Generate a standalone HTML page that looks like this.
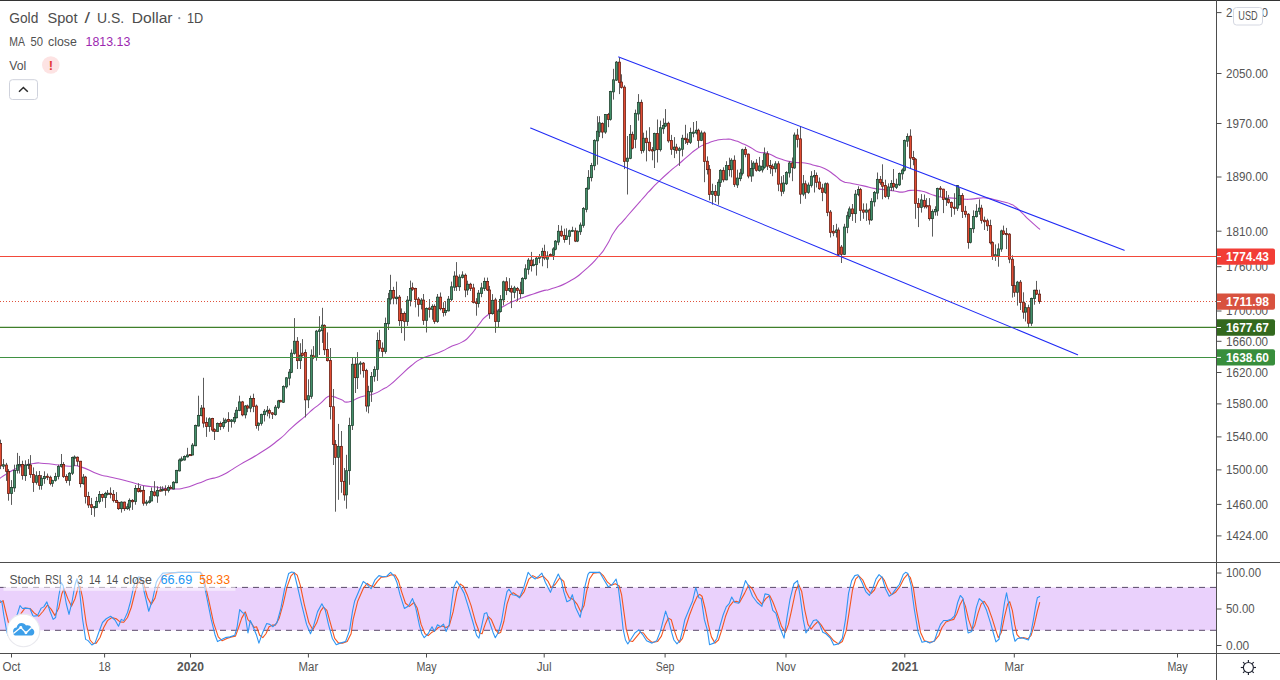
<!DOCTYPE html><html><head><meta charset="utf-8"><title>Gold Spot / U.S. Dollar</title>
<style>html,body{margin:0;padding:0;background:#fff;}body{width:1280px;height:680px;overflow:hidden;font-family:"Liberation Sans",sans-serif;}svg{display:block;}text{font-family:"Liberation Sans",sans-serif;}</style></head><body>
<svg width="1280" height="680" viewBox="0 0 1280 680">
<rect x="0" y="0" width="1280" height="680" fill="#ffffff"/>
<g id="rsi">
<rect x="0" y="587.4" width="1216.5" height="42.9" fill="#ead1fc"/>
<line x1="0" y1="587.4" x2="1216.5" y2="587.4" stroke="#5a4a6a" stroke-width="1" stroke-dasharray="6 5"/>
<line x1="0" y1="630.3" x2="1216.5" y2="630.3" stroke="#5a4a6a" stroke-width="1" stroke-dasharray="6 5"/>
<polyline points="0,602.5 3.12,600.62 5.62,611.25 8.75,623.75 11.25,631.25 15,627.5 18.75,618.75 21.25,613.12 25,608.12 30,608.5 34.38,613.12 38.75,616.25 43.12,611.25 47.5,605 51.25,609.38 55,615.62 58.75,608.12 61.88,593.75 64,588.75 68.12,599.38 71.5,606.25 75,598.75 78.12,587.5 80,586.25 82.5,597.5 86.25,623.75 90,640 93.12,643.5 96.25,643.12 100,637.5 103.75,627.5 107.5,620.62 111.88,617.5 116.25,618.75 120,621.88 123.75,622.25 127.5,617.5 131.25,607.5 135,592.5 137.5,583.75 141.25,580 143.75,583.75 147.5,597.5 151.25,604.38 155,598.12 158.12,586.25 162.81,575.94 170.62,573.12 178.44,572.34 200.31,572.34 201.88,573.59 205,583.75 208.91,600.94 213.59,622.81 218.28,636.88 222.19,640.78 226.88,638.44 231.56,636.88 235.47,636.09 238.59,627.5 241.72,618.12 245.31,611.88 247.97,619.69 251.09,622.81 254.22,627.5 256.56,626.72 259.69,635.31 262.81,637.66 265.94,633.75 269.06,626.72 272.19,625.16 275.31,625.16 279.22,618.12 283.12,604.06 287.03,586.88 290.94,575.94 294.06,572.81 297.19,575.16 300.31,585.31 304.22,604.06 308.91,622.81 312.81,629.84 316.72,622.81 320.62,611.09 323.44,607.19 326.88,610.31 330.78,624.38 334.69,638.44 338.59,643.12 342.5,643.12 347.19,641.56 351.09,633.75 353.12,619.69 357.81,600.94 363.28,588.44 367.19,583.44 370.31,585.62 373.44,586.88 377.34,581.41 381.25,577.19 386.72,576.72 391.41,574.69 395.31,575.16 398.44,580.62 401.56,591.56 405.47,603.28 409.38,606.41 414.06,602.5 417.19,607.97 421.09,624.38 425,633.75 428.12,635.62 432.03,632.19 435.16,630.62 438.28,627.5 442.19,625.94 446.09,627.5 449.22,625.94 453.12,611.88 457.03,591.56 460.16,584.06 463.28,586.09 467.19,594.69 471.09,605.62 475.78,622.81 479.69,632.97 482.03,633.75 485.16,624.38 488.28,616.56 491.41,619.69 495.31,629.06 498.44,633.44 500.78,632.19 503.91,621.25 507.03,604.06 510.16,594.69 513.28,592.81 517.19,595.47 520.31,597.03 524.22,591.56 528.91,579.06 532.81,575.62 537.5,578.28 542.97,575.94 548.12,581.41 551.25,587.66 555.16,584.53 559.84,577.81 563.75,581.41 566.09,591.56 569.22,597.81 573.12,599.38 577.03,604.06 580.94,611.88 584.06,605.62 586.41,592.34 589.53,579.06 593.44,573.12 599.69,572.34 603.59,575.94 607.5,582.19 611.41,585.31 615.31,583.75 619.22,586.09 621.56,594.69 623.91,611.88 626.25,629.06 629.38,640.78 632.5,641.56 636.41,636.88 640.31,632.19 643.44,632.97 647.34,638.44 652.03,642.34 657.5,641.56 661.41,636.09 665.31,624.38 668.44,618.12 671.25,619.69 673.91,629.06 677.03,638.44 679.38,642.34 682.5,638.44 685.62,627.5 689.53,615 693.44,604.84 697.34,596.25 699.69,594.38 702.03,596.25 705.16,608.75 708.28,624.38 711.41,636.88 715,643.12 718.44,640 721.56,630.62 725.47,616.56 729.38,606.41 733.28,601.72 736.41,601.25 739.53,602.5 744.69,593.12 748.59,585 752.5,589.22 757.19,598.59 761.88,604.06 765.78,598.59 769.69,595.47 772.81,601.72 776.72,611.88 781.41,625.94 785.31,632.5 788.44,624.38 791.56,610.31 795.47,591.56 798.59,584.53 801.72,591.56 804.84,610.31 807.97,624.38 811.09,629.06 814.22,625.16 818.12,621.25 821.25,625.16 825.16,631.41 829.84,636.09 833.75,640.78 838.44,643.91 842.34,641.56 846.25,630.62 849.38,610.31 852.5,590 855.62,579.06 858.75,575.94 862.66,579.84 866.56,588.44 870.94,593.59 874.38,590 878.28,581.41 881.88,576.72 884.53,580.62 887.66,588.44 891.56,594.69 895.47,592.34 900.16,586.09 904.06,578.28 907.5,574.38 910.31,577.5 913.44,588.44 916.56,610.31 920.47,632.19 924.38,640.78 929.06,642.34 933.75,641.56 938.91,635.31 942.03,627.5 945.94,622.03 949.84,620.47 953.75,619.38 956.88,613.44 960,604.84 962.81,599.38 965.47,606.41 968.59,619.69 972.19,629.84 974.84,625.16 977.97,613.44 981.09,604.06 984.22,601.25 988.12,607.19 992.03,618.12 995.94,630.62 998.28,637.66 1001.41,632.19 1004.53,616.56 1007.66,604.06 1009.69,601.72 1012.34,610.31 1014.69,624.38 1017.03,634.53 1020.16,638.12 1024.06,637.66 1027.97,638.75 1031.09,635.31 1034.22,625.16 1037.34,611.09 1039.69,602.5" fill="none" stroke="#f4551f" stroke-width="1.1" stroke-linejoin="round" stroke-linecap="round" />
<polyline points="0,600.62 1.88,601.88 3.75,615 6.25,628.75 7.75,635 10.62,632.5 13.75,623.75 17.5,613.75 20,605.62 22.5,608.5 25,608.12 30,608.75 33.12,616.25 37.5,615.62 41.25,608.12 43.75,606.88 46.88,601.88 50,611.25 53.12,619.38 55.62,617.5 58.75,596.25 61.25,582.5 63.12,585.62 66.25,603.75 69,614.38 71.88,602.5 75,585 76.88,578.75 79.38,588.75 82.5,618.75 85.62,639.38 88.12,640.62 91.88,645 95,643.12 98.75,632.5 102.5,622.5 106.25,618.75 110.62,616.25 115,620 118.5,626.25 121.25,619.38 123.75,620.62 127.5,612.5 130.62,601.25 133.75,586.25 135.62,580 138.75,576.88 141.25,577.5 143.75,590 148.75,611.25 152.5,600 156.25,582.5 158.12,578.75 162.81,573.12 170.62,572.81 178.44,572.34 186.25,572.34 200.31,572.34 202.66,577.5 206.56,596.25 211.25,619.69 215.16,635.31 217.5,641.56 220.62,640 225.31,637.66 230,636.88 234.69,635.31 237.03,627.5 239.69,609.53 242.5,612.66 244.84,613.44 247.97,632.97 250.31,620.47 253.44,627.5 256.56,635.31 258.91,643.12 262.81,632.19 266.72,623.59 269.84,624.38 272.97,626.72 276.88,622.81 280.78,608.75 284.69,588.44 288.59,573.59 291.72,572.03 294.06,572.5 297.19,585.31 301.88,605.62 306.56,624.38 310.47,633.75 313.59,625.94 317.5,611.88 321.88,603.75 325.31,610.31 328.44,624.38 332.34,638.44 336.25,644.69 340.16,643.12 345.62,641.56 349.53,630.62 352.66,610.31 354.69,600.94 359.38,590 363.28,581.41 367.19,584.53 371.09,588.75 375,579.84 378.91,575.62 382.81,576.72 386.72,576.25 390.62,572.34 394.53,576.72 396.88,582.19 400,594.69 404.38,608.44 408.59,605.94 412.5,598.59 415.62,607.19 419.53,625.94 421.88,633.75 424.22,637.66 428.12,633.75 432.03,626.72 434.38,631.41 437.5,624.84 440.62,626.72 443.44,624.06 446.09,631.41 449.22,624.38 451.56,604.06 453.91,586.88 456.72,581.09 460.16,586.09 464.06,593.12 467.97,605.62 472.66,621.25 476.56,635.31 478.91,638.12 482.03,624.38 484.38,613.44 486.72,612.66 489.84,622.81 492.97,632.19 495.31,637.66 498.44,632.19 501.56,621.25 504.69,602.5 507.03,591.56 509.06,589.22 512.5,594.69 516.41,595.47 519.53,597.81 523.44,588.44 528.12,572.34 531.25,576.25 535.16,579.06 539.06,575.94 541.88,573.12 545.31,582.19 550.47,592.34 554.38,582.19 558.28,574.06 561.41,580.62 563.75,591.56 566.88,601.72 570,600.16 572.34,594.69 575.47,607.19 580.16,617.34 582.5,605.62 584.84,586.88 587.97,574.38 589.53,572.34 599.69,572.34 603.59,579.06 608.28,586.88 612.19,584.53 616.09,579.06 618.44,588.44 620.78,607.19 623.12,629.06 625.47,640 627.81,643.91 630.94,639.22 634.84,632.97 638.75,629.84 642.66,634.53 646.56,640.78 652.03,643.12 656.72,640.78 660.62,630.62 663.75,618.12 665.62,611.09 668.44,619.69 671.56,632.19 673.91,640 677.03,643.91 680.16,640 682.5,630.62 684.84,619.69 688.75,610.31 692.66,600.94 695.78,587.66 698.91,597.81 701.25,598.59 704.38,619.69 707.5,630.62 709.53,644.69 713.75,643.12 716.88,638.44 720,625.94 723.12,615 726.25,606.88 729.38,603.28 731.72,597.03 734.84,602.5 738.75,603.28 743.12,588.44 745.47,580.62 748.59,586.09 752.5,596.25 757.19,602.5 761.88,606.41 765,593.91 768.91,594.69 772.81,610.31 775.94,613.44 779.84,627.5 784.06,638.12 786.88,618.12 790,599.38 793.91,583.75 797.5,580.62 800.16,596.25 803.28,619.69 805.94,632.97 809.53,627.5 813.44,620.47 816.56,619.69 819.69,624.38 822.81,632.19 825.94,633.75 830.62,638.44 833.75,645 838.44,643.91 842.34,638.44 845.47,619.69 848.59,593.12 851.72,580.62 854.84,575.62 857.97,574.69 861.88,582.19 865.78,591.56 869.38,595.47 872.81,588.44 875.94,579.06 879.06,574.69 882.19,577.5 885.31,588.44 889.22,596.25 892.34,593.91 896.25,588.44 899.38,584.53 903.28,574.38 905.62,572.34 907.97,573.59 911.09,585.31 914.22,608.75 918.12,632.19 922.03,642.34 925.94,641.25 929.84,643.12 934.53,640.78 937.34,632.19 940.47,624.38 943.59,620.47 947.5,620.47 951.41,618.91 954.53,615.78 957.66,602.5 960.31,595.47 963.12,598.59 965.47,616.56 968.12,632.97 971.72,631.41 974.06,619.69 976.41,607.19 979.22,598.59 982.66,601.72 986.56,610.31 990.47,622.81 993.59,633.75 995.94,641.88 999.06,639.22 1001.41,624.38 1004.53,602.5 1006.56,592.81 1008.44,602.5 1010.78,618.12 1013.12,633.75 1015,641.25 1017.81,638.44 1021.72,637.66 1024.84,638.75 1028.44,640 1031.09,632.19 1033.44,619.69 1035.78,605.62 1037.34,597.81 1039.69,596.56" fill="none" stroke="#2f96f3" stroke-width="1.1" stroke-linejoin="round" stroke-linecap="round" />
</g>
<g id="levels">
<line x1="0" y1="301.5" x2="1216.5" y2="301.5" stroke="#e0523c" stroke-width="1.2" stroke-dasharray="1 2"/>
</g>
<path d="M0 478.2C2.47 476.63 0.73 477.23 7.4 473.5C14.07 469.77 11.2 470.33 20 467C28.8 463.67 25.77 464.67 33.8 463.5C41.83 462.33 35.77 463 44.1 463.5C52.43 464 50.47 464.1 58.8 465C67.13 465.9 62.03 465.67 69.1 466.2C76.17 466.73 70.37 463.97 80 466.6C89.63 469.23 89.03 470.87 98 474.1C106.97 477.33 99.53 474.57 106.9 476.3C114.27 478.03 110.8 477 120.1 479.3C129.4 481.6 126.47 481 134.8 483.2C143.13 485.4 138.03 484.63 145.1 485.9C152.17 487.17 150.93 486.37 156 487C161.07 487.63 154.77 487.13 160.3 487.8C165.83 488.47 164.37 489 172.6 489C180.83 489 176.73 489.6 185 487.8C193.27 486 189.17 486.5 197.4 483.6C205.63 480.7 202.87 481.3 209.7 479.1C216.53 476.9 211.73 479.4 217.9 477C224.07 474.6 220.83 476.03 228.2 471.9C235.57 467.77 229.4 470.9 240 464.6C250.6 458.3 247.2 461.2 260 453C272.8 444.8 267.8 448.47 278.4 440C289 431.53 282.9 435.5 291.8 427.6C300.7 419.7 298.37 422.17 305.1 416.3C311.83 410.43 307 414.23 312 410C317 405.77 314.7 408.07 320.1 403.6C325.5 399.13 323.9 398.93 328.2 396.6C332.5 394.27 328.7 395.63 333 396.6C337.3 397.57 335.97 397.7 341.1 399.5C346.23 401.3 341.93 402.8 348.4 402C354.87 401.2 352.13 399.8 360.5 397.1C368.87 394.4 365.93 396.6 373.5 393.9C381.07 391.2 377.6 392.1 383.2 389C388.8 385.9 384.5 389.17 390.3 384.6C396.1 380.03 393.73 381.5 400.6 375.3C407.47 369.1 404.03 371.5 410.9 366C417.77 360.5 414.33 362.43 421.2 358.8C428.07 355.17 424.63 357.63 431.5 355.1C438.37 352.57 434.93 354.2 441.8 351.2C448.67 348.2 445.23 349.2 452.1 346.1C458.97 343 456.37 345.5 462.4 341.9C468.43 338.3 464.83 340.93 470.2 335.3C475.57 329.67 473 331.53 478.5 325C484 318.47 480.53 320.5 486.7 315.7C492.87 310.9 491.5 313.67 497 310.6C502.5 307.53 497.7 309.6 503.2 306.5C508.7 303.4 506.63 304.4 513.5 301.3C520.37 298.2 516.93 299.73 523.8 297.2C530.67 294.67 527.23 295.97 534.1 293.7C540.97 291.43 538.43 292.1 544.4 290.4C550.37 288.7 543.47 291.73 552 288.6C560.53 285.47 558.97 287.27 570 281C581.03 274.73 575.6 277.97 585.1 269.8C594.6 261.63 591.3 264.7 598.5 256.5C605.7 248.3 601.23 253.77 606.7 245.2C612.17 236.63 608.8 239.6 614.9 230.8C621 222 616.17 229.07 625 218.8C633.83 208.53 632.6 209.93 641.4 200C650.2 190.07 645.13 195.63 651.4 189C657.67 182.37 653.6 186.37 660.2 180.1C666.8 173.83 665.27 175.37 671.2 170.2C677.13 165.03 672.53 169.2 678 164.6C683.47 160 681.23 161.7 687.6 156.4C693.97 151.1 690.73 152.97 697.1 148.7C703.47 144.43 700.33 146.33 706.7 143.6C713.07 140.87 709.83 141.97 716.2 140.5C722.57 139.03 720.07 139.33 725.8 139.2C731.53 139.07 728.3 138.83 733.4 140.1C738.5 141.37 735.37 140.57 741.1 143C746.83 145.43 744.87 144.4 750.6 147.4C756.33 150.4 752.5 149.97 758.3 152C764.1 154.03 760.77 151.23 768 153.5C775.23 155.77 771.83 155.97 780 158.8C788.17 161.63 784.17 160.6 792.5 162C800.83 163.4 797.5 161.83 805 163C812.5 164.17 808.33 163.57 815 165.5C821.67 167.43 818.33 165.47 825 168.8C831.67 172.13 829.17 171.33 835 175.5C840.83 179.67 837.5 178.8 842.5 181.3C847.5 183.8 842.97 181.47 850 183C857.03 184.53 855.63 184.1 863.6 185.9C871.57 187.7 867.03 187.17 873.9 188.4C880.77 189.63 877.33 188.73 884.2 189.6C891.07 190.47 888.33 190.17 894.5 191C900.67 191.83 897.23 192.3 902.7 192.1C908.17 191.9 904.73 190.77 910.9 190.4C917.07 190.03 915 189.9 921.2 191C927.4 192.1 925.17 192.23 929.5 193.7C933.83 195.17 929.87 194.13 934.2 195.4C938.53 196.67 936.3 196.6 942.5 197.5C948.7 198.4 945.93 197.57 952.8 198.1C959.67 198.63 956.93 198.77 963.1 199.1C969.27 199.43 965.83 199.43 971.3 199.1C976.77 198.77 974 198.43 979.5 198.1C985 197.77 982.3 197.43 987.8 198.1C993.3 198.77 990.53 198.8 996 200.1C1001.47 201.4 999.4 200.73 1004.2 202C1009 203.27 1006.47 202.13 1010.4 203.9C1014.33 205.67 1011.97 204.17 1016 207.3C1020.03 210.43 1018.13 209.1 1022.5 213.3C1026.87 217.5 1023.37 214.6 1029.1 219.9C1034.83 225.2 1036.17 226.1 1039.7 229.2" fill="none" stroke="#b24fc6" stroke-width="1.1" stroke-linejoin="round" stroke-linecap="round"/>
<g id="candles">
<path d="M0.5 439.7V469.1M3.5 459.1V469.1M6.5 462.9V480.9M8.5 469.1V500.7M11.5 480.1V504.9M14.5 464.7V491.9M17.5 452.9V473.5M19.5 455.9V473.5M22.5 460.7V479.7M25.5 460.3V480.9M28.5 459.1V469.1M30.5 455.1V477.9M33.5 467.4V491.9M36.5 471.3V484.6M39.5 471V489.7M41.5 475V489.7M44.5 471.3V483.8M47.5 473.5V480.1M50.5 475.7V485.3M52.5 479.7V486.8M55.5 472.8V481.6M58.5 464.7V479.4M61.5 454V467.6M63.5 462.1V477.9M66.5 474.3V483.1M69.5 472.1V485.6M72.5 456.6V475M74.5 455.4V466.2M77.5 456.5V466M80.5 460.9V487.4M83.5 474.1V484.7M85.5 475.9V503.5M88.5 491.8V507.9M91.5 497.9V515M94.5 506.2V516.8M96.5 496.9V507.9M99.5 491V503.5M102.5 493.5V501.6M105.5 491.8V507.9M107.5 490V495.4M110.5 487.4V498.4M113.5 490V502.4M116.5 492.1V502.8M118.5 501.6V509.9M121.5 501.3V512.6M124.5 501.6V510.9M127.5 503.5V509.9M129.5 498.4V510.6M132.5 499.1V509.9M135.5 485.1V504.7M138.5 483.2V492.5M140.5 485.9V492.5M143.5 485.9V505.7M146.5 499.9V505.7M149.5 496.2V503.5M151.5 487.4V501.3M154.5 481.2V496.6M157.5 486.3V502.8M160.5 486.3V491.5M162.5 486.3V491.5M165.5 485.3V495.6M168.5 485.3V492.5M170.5 485.3V489.4M173.5 481.2V489.4M176.5 469.9V483.2M179.5 458.5V471.5M181.5 456.5V461.6M184.5 455.4V460.6M187.5 447.8V457.5M190.5 454.4V455.9M192.5 443.1V455.4M195.5 424.6V446.2M198.5 395.7V426.6M201.5 405V416.3M203.5 377.8V427.6M206.5 417.4V436.9M209.5 417.4V431.8M212.5 417.8V431.8M214.5 428.3V440M217.5 422.5V431.8M220.5 421.5V430.1M223.5 417.8V428.7M225.5 418.4V423.5M228.5 412.2V431.8M231.5 419V427.6M234.5 412.8V423.5M236.5 407.1V418.4M239.5 395.7V411.2M242.5 400.9V416.3M245.5 405V418.4M247.5 404.6V412.2M250.5 395.7V412.2M253.5 393.7V412.2M256.5 404.6V428.7M258.5 422.5V430.7M261.5 413.7V425.6M264.5 409.1V421.5M267.5 406V416.3M269.5 408.5V418.4M272.5 412.2V419M275.5 405V415.7M278.5 399.9V409.1M280.5 399.9V402.3M283.5 385.4V402.9M286.5 377.2V388.5M289.5 369V385.4M291.5 349.4V373.1M294.5 318.1V354.6M297.5 337.1V369M300.5 343.2V369M302.5 339.1V356.6M305.5 349.4V417.4M308.5 379.3V408.1M311.5 349.4V398.8M313.5 346.1V359.1M316.5 329.9V360.7M319.5 316.2V355M322.5 307.8V342.9M324.5 324.3V355M327.5 332.4V361.5M330.5 348V419.4M333.5 389V465M335.5 440V511.7M338.5 423.9V499.8M341.5 431V492.8M344.5 468V500.7M346.5 454.8V508.7M349.5 417.7V484.8M352.5 357.4V430M355.5 357.4V393M357.5 352.1V389M360.5 361.2V374.4M363.5 362V377.7M366.5 368.8V411.7M368.5 385.8V413.3M371.5 372V401.9M374.5 366.3V381.7M377.5 332.4V380.9M379.5 329.9V351.5M382.5 342.4V356.8M385.5 317.6V353.7M388.5 292.9V330M390.5 274.8V304.3M393.5 286.8V304.3M396.5 281.6V304.3M399.5 295V325.9M401.5 308.4V333.1M404.5 311.5V340.7M407.5 296V325.9M410.5 280.6V306.3M412.5 282.6V290.9M415.5 287.8V307.4M418.5 297.1V316.6M421.5 298.1V309.4M423.5 294V324.9M426.5 307.4V332.5M429.5 299.1V317.6M432.5 304.3V319.7M434.5 304.3V323.8M437.5 294V322.8M440.5 292.5V310.4M443.5 302.2V316.6M445.5 301.2V315.6M448.5 296V311.5M451.5 281.6V301.2M454.5 271.3V290.9M456.5 262.1V290.9M459.5 274.4V290.9M462.5 271.3V278.5M465.5 273.5V297.2M467.5 280.7V295.1M470.5 282.8V291M473.5 283.8V303.4M476.5 298.2V315.7M478.5 290V307.5M481.5 282.8V297.2M484.5 277.6V291M487.5 277.6V291M489.5 285.9V318.8M492.5 294.1V314.7M495.5 297.8V332.8M498.5 308.9V327.1M500.5 295.1V312.6M503.5 280.7V305.4M506.5 277.2V295.1M509.5 278.1V292.1M511.5 285.5V308.1M514.5 285.9V298.2M517.5 286.9V301.3M520.5 281.8V298.2M522.5 277.2V294.1M525.5 264.3V279.7M528.5 258.1V274.6M531.5 251.9V271.5M533.5 259.1V266.3M536.5 256V275.6M539.5 254V263.2M542.5 247.8V266.3M544.5 244.7V260.1M547.5 251.3V268.2M550.5 253.4V256.5M553.5 247.2V260M555.5 240V250.3M558.5 225V245.2M561.5 225.6V236.9M564.5 228.7V242.7M566.5 228.3V240M569.5 229.7V244.8M572.5 226.7V231.8M575.5 227.7V242.1M577.5 230.4V242.1M580.5 222.5V234.9M583.5 207.1V227.7M586.5 187.6V212.3M588.5 170.1V189.6M591.5 162.9V181.4M594.5 139.3V170.2M597.5 116.2V164.7M599.5 116.2V137.1M602.5 122.4V138.2M605.5 114V133.8M608.5 112.9V127.2M610.5 90.8V120.6M613.5 68.8V99.6M616.5 61V80.9M619.5 57.7V94.1M621.5 74.3V88.6M624.5 85.3V169.1M627.5 136V194.5M630.5 125V159.2M632.5 131.6V149.3M635.5 109.6V148.2M638.5 94.1V120.6M641.5 99.6V153.7M643.5 132.7V152.6M646.5 130.5V161.4M649.5 127.2V151.5M652.5 147.1V160.3M654.5 132.7V168M657.5 119.5V162.5M660.5 120.6V151.5M663.5 118.4V133.8M665.5 109.1V127.2M668.5 121.7V142.7M671.5 134.9V154.8M674.5 137.1V158.1M676.5 143.8V153.7M679.5 146.8V165.9M682.5 134.8V156.4M685.5 124.8V144M687.5 133.4V144.9M690.5 127.7V144M693.5 122V137.3M696.5 121V134.4M698.5 128.7V147.8M701.5 130.6V141.1M704.5 131.5V182.2M707.5 156.4V174.5M709.5 165V200.3M712.5 183.7V204.7M715.5 185V202.2M718.5 179.3V204.7M720.5 169.2V186.9M723.5 167.3V182.2M726.5 161.2V180.3M729.5 157.7V176.4M731.5 158.3V177.4M734.5 155.4V186.9M737.5 169.7V187.9M740.5 168.8V181.2M742.5 148.7V175.5M745.5 146.8V157.3M748.5 153.5V178.3M751.5 160.2V181.8M753.5 161.2V176.4M756.5 159.2V171.7M759.5 156.9V171.7M762.5 160V172.5M764.5 147.5V168.8M767.5 151.2V170M770.5 160V173.8M772.5 163.8V176.2M775.5 161.2V172.5M778.5 161.2V191.2M781.5 176.2V196.2M783.5 175V193.8M786.5 171.2V185M789.5 161.2V177.5M792.5 157.5V181.2M794.5 132.5V168.8M797.5 128.8V147.5M800.5 126.2V203.8M803.5 175V196.2M805.5 180.5V198.8M808.5 182.5V193.8M811.5 171.2V187.5M814.5 170V192.5M816.5 172.5V187.5M819.5 177.5V190M822.5 183.8V201.2M825.5 182.5V193.8M827.5 182.5V216.2M830.5 210V237.5M833.5 225V236.2M836.5 223.8V237.5M838.5 227.5V255.8M841.5 245V263M844.5 223.8V255M847.5 211.6V233.2M849.5 206.5V218.8M852.5 204V220.9M855.5 190V222.9M858.5 186.3V196.2M860.5 187.9V220.9M863.5 203.4V218.8M866.5 203.4V220.9M869.5 208.5V224.6M871.5 198.2V220.9M874.5 191V206.5M877.5 172.5V199.3M880.5 176V184.9M882.5 164.3V199.3M885.5 179.7V197.8M888.5 183.4V199.3M891.5 180.1V191M893.5 169V191M896.5 178.7V189M899.5 172.5V185.9M902.5 168.4V179.7M904.5 139.6V171.5M907.5 133.4V146.8M910.5 129.3V168.4M913.5 150.9V165.3M915.5 158.1V218.8M918.5 198.2V227.1M921.5 194.1V212.6M924.5 194.5V208.5M926.5 198.2V208.5M929.5 198.1V220.7M932.5 209.4V236.6M935.5 206.3V215.6M937.5 187.7V215.8M940.5 186V197.1M943.5 188.8V213.1M946.5 191V205.9M948.5 194.9V203.7M951.5 201.5V216.9M954.5 193.2V214.7M957.5 185.2V210.9M959.5 188.2V205.4M962.5 193.2V218M965.5 205.9V217.5M968.5 213.1V248.7M970.5 228V243.4M973.5 210.3V232.9M976.5 204.2V217.5M979.5 199.3V214.7M981.5 204.8V223.6M984.5 216.6V230M987.5 218.7V231M990.5 219.7V244.4M992.5 241.3V259.9M995.5 244.4V260.9M998.5 243.4V266.7M1001.5 229.7V251.8M1003.5 225.6V235M1006.5 227.9V249.1M1009.5 233.2V263.2M1012.5 255.3V297.6M1014.5 265.9V296.8M1017.5 280.9V305.6M1020.5 280V310M1023.5 292.3V318.8M1025.5 302.9V321.5M1028.5 304.7V328M1031.5 297.6V325.9M1034.5 289.7V304.7M1036.5 280.9V295M1039.5 289.7V303.8" stroke="#5c5c5c" stroke-width="1" fill="none"/>
<rect x="-0.65" y="443.4" width="2.3" height="22.5" fill="#e24c33" stroke="#5a170e" stroke-width="0.7"/>
<rect x="2.35" y="464.7" width="2.3" height="1.5" fill="#43906a" stroke="#1c3a29" stroke-width="0.7"/>
<rect x="5.35" y="465" width="2.3" height="6.3" fill="#e24c33" stroke="#5a170e" stroke-width="0.7"/>
<rect x="7.35" y="471.3" width="2.3" height="22.1" fill="#e24c33" stroke="#5a170e" stroke-width="0.7"/>
<rect x="10.35" y="487.5" width="2.3" height="5.9" fill="#43906a" stroke="#1c3a29" stroke-width="0.7"/>
<rect x="13.35" y="470.3" width="2.3" height="17.6" fill="#43906a" stroke="#1c3a29" stroke-width="0.7"/>
<rect x="16.35" y="465" width="2.3" height="5.3" fill="#43906a" stroke="#1c3a29" stroke-width="0.7"/>
<rect x="18.35" y="464.4" width="2.3" height="1.5" fill="#43906a" stroke="#1c3a29" stroke-width="0.7"/>
<rect x="21.35" y="464.4" width="2.3" height="11" fill="#e24c33" stroke="#5a170e" stroke-width="0.7"/>
<rect x="24.35" y="465" width="2.3" height="10.7" fill="#43906a" stroke="#1c3a29" stroke-width="0.7"/>
<rect x="27.35" y="464.3" width="2.3" height="1.2" fill="#43906a" stroke="#1c3a29" stroke-width="0.7"/>
<rect x="29.35" y="465" width="2.3" height="9.6" fill="#e24c33" stroke="#5a170e" stroke-width="0.7"/>
<rect x="32.35" y="474.6" width="2.3" height="8" fill="#e24c33" stroke="#5a170e" stroke-width="0.7"/>
<rect x="35.35" y="475.7" width="2.3" height="6.9" fill="#43906a" stroke="#1c3a29" stroke-width="0.7"/>
<rect x="38.35" y="475.4" width="2.3" height="9.9" fill="#e24c33" stroke="#5a170e" stroke-width="0.7"/>
<rect x="40.35" y="478.2" width="2.3" height="7.4" fill="#43906a" stroke="#1c3a29" stroke-width="0.7"/>
<rect x="43.35" y="476.5" width="2.3" height="2.2" fill="#43906a" stroke="#1c3a29" stroke-width="0.7"/>
<rect x="46.35" y="476.2" width="2.3" height="1.3" fill="#e24c33" stroke="#5a170e" stroke-width="0.7"/>
<rect x="49.35" y="477.2" width="2.3" height="6.2" fill="#e24c33" stroke="#5a170e" stroke-width="0.7"/>
<rect x="51.35" y="480.6" width="2.3" height="2.8" fill="#43906a" stroke="#1c3a29" stroke-width="0.7"/>
<rect x="54.35" y="476.5" width="2.3" height="4.1" fill="#43906a" stroke="#1c3a29" stroke-width="0.7"/>
<rect x="57.35" y="466.5" width="2.3" height="10" fill="#43906a" stroke="#1c3a29" stroke-width="0.7"/>
<rect x="60.35" y="464.4" width="2.3" height="2.1" fill="#43906a" stroke="#1c3a29" stroke-width="0.7"/>
<rect x="62.35" y="464.4" width="2.3" height="12.1" fill="#e24c33" stroke="#5a170e" stroke-width="0.7"/>
<rect x="65.35" y="476.5" width="2.3" height="3.9" fill="#e24c33" stroke="#5a170e" stroke-width="0.7"/>
<rect x="68.35" y="473.2" width="2.3" height="7.2" fill="#43906a" stroke="#1c3a29" stroke-width="0.7"/>
<rect x="71.35" y="457.6" width="2.3" height="15.6" fill="#43906a" stroke="#1c3a29" stroke-width="0.7"/>
<rect x="73.35" y="457" width="2.3" height="1.2" fill="#43906a" stroke="#1c3a29" stroke-width="0.7"/>
<rect x="76.35" y="457.2" width="2.3" height="4" fill="#e24c33" stroke="#5a170e" stroke-width="0.7"/>
<rect x="79.35" y="461.2" width="2.3" height="22.5" fill="#e24c33" stroke="#5a170e" stroke-width="0.7"/>
<rect x="82.35" y="477.1" width="2.3" height="6.6" fill="#43906a" stroke="#1c3a29" stroke-width="0.7"/>
<rect x="84.35" y="477.1" width="2.3" height="19.4" fill="#e24c33" stroke="#5a170e" stroke-width="0.7"/>
<rect x="87.35" y="496.5" width="2.3" height="8.5" fill="#e24c33" stroke="#5a170e" stroke-width="0.7"/>
<rect x="90.35" y="504.7" width="2.3" height="2.8" fill="#e24c33" stroke="#5a170e" stroke-width="0.7"/>
<rect x="93.35" y="506.65" width="2.3" height="1.2" fill="#43906a" stroke="#1c3a29" stroke-width="0.7"/>
<rect x="95.35" y="501.3" width="2.3" height="6.2" fill="#43906a" stroke="#1c3a29" stroke-width="0.7"/>
<rect x="98.35" y="494.4" width="2.3" height="7.2" fill="#43906a" stroke="#1c3a29" stroke-width="0.7"/>
<rect x="101.35" y="494.4" width="2.3" height="3.2" fill="#e24c33" stroke="#5a170e" stroke-width="0.7"/>
<rect x="104.35" y="493.5" width="2.3" height="4.1" fill="#43906a" stroke="#1c3a29" stroke-width="0.7"/>
<rect x="106.35" y="493.15" width="2.3" height="1.2" fill="#43906a" stroke="#1c3a29" stroke-width="0.7"/>
<rect x="109.35" y="493.2" width="2.3" height="1.2" fill="#e24c33" stroke="#5a170e" stroke-width="0.7"/>
<rect x="112.35" y="494.3" width="2.3" height="6.3" fill="#e24c33" stroke="#5a170e" stroke-width="0.7"/>
<rect x="115.35" y="500.6" width="2.3" height="1.8" fill="#e24c33" stroke="#5a170e" stroke-width="0.7"/>
<rect x="117.35" y="502.4" width="2.3" height="6.3" fill="#e24c33" stroke="#5a170e" stroke-width="0.7"/>
<rect x="120.35" y="502.1" width="2.3" height="6.6" fill="#43906a" stroke="#1c3a29" stroke-width="0.7"/>
<rect x="123.35" y="502.1" width="2.3" height="6.6" fill="#e24c33" stroke="#5a170e" stroke-width="0.7"/>
<rect x="126.35" y="506.8" width="2.3" height="1.9" fill="#43906a" stroke="#1c3a29" stroke-width="0.7"/>
<rect x="128.35" y="500.3" width="2.3" height="6.9" fill="#43906a" stroke="#1c3a29" stroke-width="0.7"/>
<rect x="131.35" y="500.3" width="2.3" height="1.5" fill="#e24c33" stroke="#5a170e" stroke-width="0.7"/>
<rect x="134.35" y="488.4" width="2.3" height="13.2" fill="#43906a" stroke="#1c3a29" stroke-width="0.7"/>
<rect x="137.35" y="488.4" width="2.3" height="3.1" fill="#e24c33" stroke="#5a170e" stroke-width="0.7"/>
<rect x="139.35" y="490.3" width="2.3" height="1.2" fill="#e24c33" stroke="#5a170e" stroke-width="0.7"/>
<rect x="142.35" y="490.3" width="2.3" height="12.9" fill="#e24c33" stroke="#5a170e" stroke-width="0.7"/>
<rect x="145.35" y="502.05" width="2.3" height="1.2" fill="#43906a" stroke="#1c3a29" stroke-width="0.7"/>
<rect x="148.35" y="501" width="2.3" height="1.4" fill="#43906a" stroke="#1c3a29" stroke-width="0.7"/>
<rect x="150.35" y="491.5" width="2.3" height="9.5" fill="#43906a" stroke="#1c3a29" stroke-width="0.7"/>
<rect x="153.35" y="491.9" width="2.3" height="3.7" fill="#e24c33" stroke="#5a170e" stroke-width="0.7"/>
<rect x="156.35" y="490.4" width="2.3" height="5.6" fill="#43906a" stroke="#1c3a29" stroke-width="0.7"/>
<rect x="159.35" y="489.95" width="2.3" height="1.2" fill="#e24c33" stroke="#5a170e" stroke-width="0.7"/>
<rect x="161.35" y="489.3" width="2.3" height="1.2" fill="#43906a" stroke="#1c3a29" stroke-width="0.7"/>
<rect x="164.35" y="489" width="2.3" height="1.4" fill="#e24c33" stroke="#5a170e" stroke-width="0.7"/>
<rect x="167.35" y="487.4" width="2.3" height="3" fill="#43906a" stroke="#1c3a29" stroke-width="0.7"/>
<rect x="169.35" y="487.3" width="2.3" height="1.2" fill="#e24c33" stroke="#5a170e" stroke-width="0.7"/>
<rect x="172.35" y="482.2" width="2.3" height="6.8" fill="#43906a" stroke="#1c3a29" stroke-width="0.7"/>
<rect x="175.35" y="470.3" width="2.3" height="12.5" fill="#43906a" stroke="#1c3a29" stroke-width="0.7"/>
<rect x="178.35" y="460" width="2.3" height="10.9" fill="#43906a" stroke="#1c3a29" stroke-width="0.7"/>
<rect x="180.35" y="458.9" width="2.3" height="1.7" fill="#43906a" stroke="#1c3a29" stroke-width="0.7"/>
<rect x="183.35" y="456.5" width="2.3" height="3.5" fill="#43906a" stroke="#1c3a29" stroke-width="0.7"/>
<rect x="186.35" y="455" width="2.3" height="1.9" fill="#43906a" stroke="#1c3a29" stroke-width="0.7"/>
<rect x="189.35" y="454.5" width="2.3" height="1.2" fill="#e24c33" stroke="#5a170e" stroke-width="0.7"/>
<rect x="191.35" y="445.1" width="2.3" height="9.9" fill="#43906a" stroke="#1c3a29" stroke-width="0.7"/>
<rect x="194.35" y="425.6" width="2.3" height="20.2" fill="#43906a" stroke="#1c3a29" stroke-width="0.7"/>
<rect x="197.35" y="415.3" width="2.3" height="10.7" fill="#43906a" stroke="#1c3a29" stroke-width="0.7"/>
<rect x="200.35" y="408.1" width="2.3" height="7.6" fill="#43906a" stroke="#1c3a29" stroke-width="0.7"/>
<rect x="202.35" y="408.1" width="2.3" height="15" fill="#e24c33" stroke="#5a170e" stroke-width="0.7"/>
<rect x="205.35" y="422.5" width="2.3" height="4.1" fill="#e24c33" stroke="#5a170e" stroke-width="0.7"/>
<rect x="208.35" y="418.8" width="2.3" height="7.8" fill="#43906a" stroke="#1c3a29" stroke-width="0.7"/>
<rect x="211.35" y="418.4" width="2.3" height="11.7" fill="#e24c33" stroke="#5a170e" stroke-width="0.7"/>
<rect x="213.35" y="429.7" width="2.3" height="1.7" fill="#e24c33" stroke="#5a170e" stroke-width="0.7"/>
<rect x="216.35" y="423.5" width="2.3" height="7.9" fill="#43906a" stroke="#1c3a29" stroke-width="0.7"/>
<rect x="219.35" y="423.5" width="2.3" height="3.1" fill="#e24c33" stroke="#5a170e" stroke-width="0.7"/>
<rect x="222.35" y="422.5" width="2.3" height="4.1" fill="#43906a" stroke="#1c3a29" stroke-width="0.7"/>
<rect x="224.35" y="420" width="2.3" height="2.5" fill="#43906a" stroke="#1c3a29" stroke-width="0.7"/>
<rect x="227.35" y="419.4" width="2.3" height="2.1" fill="#e24c33" stroke="#5a170e" stroke-width="0.7"/>
<rect x="230.35" y="420" width="2.3" height="1.5" fill="#43906a" stroke="#1c3a29" stroke-width="0.7"/>
<rect x="233.35" y="417.4" width="2.3" height="4.1" fill="#43906a" stroke="#1c3a29" stroke-width="0.7"/>
<rect x="235.35" y="410.2" width="2.3" height="7.6" fill="#43906a" stroke="#1c3a29" stroke-width="0.7"/>
<rect x="238.35" y="401.9" width="2.3" height="8.7" fill="#43906a" stroke="#1c3a29" stroke-width="0.7"/>
<rect x="241.35" y="401.9" width="2.3" height="13" fill="#e24c33" stroke="#5a170e" stroke-width="0.7"/>
<rect x="244.35" y="406" width="2.3" height="8.9" fill="#43906a" stroke="#1c3a29" stroke-width="0.7"/>
<rect x="246.35" y="406" width="2.3" height="2.1" fill="#e24c33" stroke="#5a170e" stroke-width="0.7"/>
<rect x="249.35" y="398.4" width="2.3" height="9.7" fill="#43906a" stroke="#1c3a29" stroke-width="0.7"/>
<rect x="252.35" y="398.4" width="2.3" height="8" fill="#e24c33" stroke="#5a170e" stroke-width="0.7"/>
<rect x="255.35" y="406" width="2.3" height="19.6" fill="#e24c33" stroke="#5a170e" stroke-width="0.7"/>
<rect x="257.35" y="423.1" width="2.3" height="2.5" fill="#43906a" stroke="#1c3a29" stroke-width="0.7"/>
<rect x="260.35" y="414.3" width="2.3" height="9.2" fill="#43906a" stroke="#1c3a29" stroke-width="0.7"/>
<rect x="263.35" y="411.2" width="2.3" height="3.5" fill="#43906a" stroke="#1c3a29" stroke-width="0.7"/>
<rect x="266.35" y="410.2" width="2.3" height="1.6" fill="#43906a" stroke="#1c3a29" stroke-width="0.7"/>
<rect x="268.35" y="410.6" width="2.3" height="2.6" fill="#e24c33" stroke="#5a170e" stroke-width="0.7"/>
<rect x="271.35" y="412.8" width="2.3" height="1.5" fill="#e24c33" stroke="#5a170e" stroke-width="0.7"/>
<rect x="274.35" y="407.1" width="2.3" height="7.6" fill="#43906a" stroke="#1c3a29" stroke-width="0.7"/>
<rect x="277.35" y="400.9" width="2.3" height="6.6" fill="#43906a" stroke="#1c3a29" stroke-width="0.7"/>
<rect x="279.35" y="400.3" width="2.3" height="1.6" fill="#e24c33" stroke="#5a170e" stroke-width="0.7"/>
<rect x="282.35" y="386.5" width="2.3" height="15.8" fill="#43906a" stroke="#1c3a29" stroke-width="0.7"/>
<rect x="285.35" y="377.8" width="2.3" height="9.1" fill="#43906a" stroke="#1c3a29" stroke-width="0.7"/>
<rect x="288.35" y="372.1" width="2.3" height="6.1" fill="#43906a" stroke="#1c3a29" stroke-width="0.7"/>
<rect x="290.35" y="353.1" width="2.3" height="19.4" fill="#43906a" stroke="#1c3a29" stroke-width="0.7"/>
<rect x="293.35" y="341.2" width="2.3" height="12.3" fill="#43906a" stroke="#1c3a29" stroke-width="0.7"/>
<rect x="296.35" y="341.2" width="2.3" height="19.5" fill="#e24c33" stroke="#5a170e" stroke-width="0.7"/>
<rect x="299.35" y="355.2" width="2.3" height="5.5" fill="#43906a" stroke="#1c3a29" stroke-width="0.7"/>
<rect x="301.35" y="353.1" width="2.3" height="2.5" fill="#e24c33" stroke="#5a170e" stroke-width="0.7"/>
<rect x="304.35" y="352.5" width="2.3" height="47.4" fill="#e24c33" stroke="#5a170e" stroke-width="0.7"/>
<rect x="307.35" y="395.7" width="2.3" height="4.2" fill="#43906a" stroke="#1c3a29" stroke-width="0.7"/>
<rect x="310.35" y="355.2" width="2.3" height="41.2" fill="#43906a" stroke="#1c3a29" stroke-width="0.7"/>
<rect x="312.35" y="355.8" width="2.3" height="1.6" fill="#e24c33" stroke="#5a170e" stroke-width="0.7"/>
<rect x="315.35" y="331.1" width="2.3" height="26.3" fill="#43906a" stroke="#1c3a29" stroke-width="0.7"/>
<rect x="318.35" y="329.9" width="2.3" height="1.7" fill="#43906a" stroke="#1c3a29" stroke-width="0.7"/>
<rect x="321.35" y="325.1" width="2.3" height="5.6" fill="#43906a" stroke="#1c3a29" stroke-width="0.7"/>
<rect x="323.35" y="325.4" width="2.3" height="24.4" fill="#e24c33" stroke="#5a170e" stroke-width="0.7"/>
<rect x="326.35" y="349.4" width="2.3" height="11.3" fill="#e24c33" stroke="#5a170e" stroke-width="0.7"/>
<rect x="329.35" y="360.4" width="2.3" height="46.3" fill="#e24c33" stroke="#5a170e" stroke-width="0.7"/>
<rect x="332.35" y="406.7" width="2.3" height="37.8" fill="#e24c33" stroke="#5a170e" stroke-width="0.7"/>
<rect x="334.35" y="444.5" width="2.3" height="12.9" fill="#e24c33" stroke="#5a170e" stroke-width="0.7"/>
<rect x="337.35" y="446.3" width="2.3" height="11.1" fill="#43906a" stroke="#1c3a29" stroke-width="0.7"/>
<rect x="340.35" y="446.3" width="2.3" height="35.3" fill="#e24c33" stroke="#5a170e" stroke-width="0.7"/>
<rect x="343.35" y="481.3" width="2.3" height="13.6" fill="#e24c33" stroke="#5a170e" stroke-width="0.7"/>
<rect x="345.35" y="470.7" width="2.3" height="24.2" fill="#43906a" stroke="#1c3a29" stroke-width="0.7"/>
<rect x="348.35" y="425.6" width="2.3" height="45.1" fill="#43906a" stroke="#1c3a29" stroke-width="0.7"/>
<rect x="351.35" y="364.2" width="2.3" height="61.4" fill="#43906a" stroke="#1c3a29" stroke-width="0.7"/>
<rect x="354.35" y="364.2" width="2.3" height="13.5" fill="#e24c33" stroke="#5a170e" stroke-width="0.7"/>
<rect x="356.35" y="363.9" width="2.3" height="13.8" fill="#43906a" stroke="#1c3a29" stroke-width="0.7"/>
<rect x="359.35" y="363.05" width="2.3" height="1.2" fill="#43906a" stroke="#1c3a29" stroke-width="0.7"/>
<rect x="362.35" y="363.1" width="2.3" height="7.6" fill="#e24c33" stroke="#5a170e" stroke-width="0.7"/>
<rect x="365.35" y="370.4" width="2.3" height="35.6" fill="#e24c33" stroke="#5a170e" stroke-width="0.7"/>
<rect x="367.35" y="391.4" width="2.3" height="14.6" fill="#43906a" stroke="#1c3a29" stroke-width="0.7"/>
<rect x="370.35" y="376.4" width="2.3" height="15.5" fill="#43906a" stroke="#1c3a29" stroke-width="0.7"/>
<rect x="373.35" y="369.6" width="2.3" height="6.8" fill="#43906a" stroke="#1c3a29" stroke-width="0.7"/>
<rect x="376.35" y="340.5" width="2.3" height="29.1" fill="#43906a" stroke="#1c3a29" stroke-width="0.7"/>
<rect x="378.35" y="340.5" width="2.3" height="8" fill="#e24c33" stroke="#5a170e" stroke-width="0.7"/>
<rect x="381.35" y="348.1" width="2.3" height="3.5" fill="#e24c33" stroke="#5a170e" stroke-width="0.7"/>
<rect x="384.35" y="323.4" width="2.3" height="28.2" fill="#43906a" stroke="#1c3a29" stroke-width="0.7"/>
<rect x="387.35" y="298.7" width="2.3" height="25.1" fill="#43906a" stroke="#1c3a29" stroke-width="0.7"/>
<rect x="389.35" y="290.5" width="2.3" height="8.6" fill="#43906a" stroke="#1c3a29" stroke-width="0.7"/>
<rect x="392.35" y="290.5" width="2.3" height="7.6" fill="#e24c33" stroke="#5a170e" stroke-width="0.7"/>
<rect x="395.35" y="297.1" width="2.3" height="1.6" fill="#43906a" stroke="#1c3a29" stroke-width="0.7"/>
<rect x="398.35" y="297.1" width="2.3" height="23.6" fill="#e24c33" stroke="#5a170e" stroke-width="0.7"/>
<rect x="400.35" y="313.5" width="2.3" height="7.2" fill="#e24c33" stroke="#5a170e" stroke-width="0.7"/>
<rect x="403.35" y="313.5" width="2.3" height="7.9" fill="#e24c33" stroke="#5a170e" stroke-width="0.7"/>
<rect x="406.35" y="300.1" width="2.3" height="21.3" fill="#43906a" stroke="#1c3a29" stroke-width="0.7"/>
<rect x="409.35" y="288.4" width="2.3" height="12.2" fill="#43906a" stroke="#1c3a29" stroke-width="0.7"/>
<rect x="411.35" y="287.8" width="2.3" height="1.4" fill="#e24c33" stroke="#5a170e" stroke-width="0.7"/>
<rect x="414.35" y="288.4" width="2.3" height="11.1" fill="#e24c33" stroke="#5a170e" stroke-width="0.7"/>
<rect x="417.35" y="299.1" width="2.3" height="5.2" fill="#e24c33" stroke="#5a170e" stroke-width="0.7"/>
<rect x="420.35" y="300.1" width="2.3" height="4.2" fill="#43906a" stroke="#1c3a29" stroke-width="0.7"/>
<rect x="422.35" y="300.1" width="2.3" height="20.2" fill="#e24c33" stroke="#5a170e" stroke-width="0.7"/>
<rect x="425.35" y="308.4" width="2.3" height="11.9" fill="#43906a" stroke="#1c3a29" stroke-width="0.7"/>
<rect x="428.35" y="308" width="2.3" height="1.4" fill="#e24c33" stroke="#5a170e" stroke-width="0.7"/>
<rect x="431.35" y="306.3" width="2.3" height="3.1" fill="#43906a" stroke="#1c3a29" stroke-width="0.7"/>
<rect x="433.35" y="306.3" width="2.3" height="15.1" fill="#e24c33" stroke="#5a170e" stroke-width="0.7"/>
<rect x="436.35" y="297.1" width="2.3" height="24.3" fill="#43906a" stroke="#1c3a29" stroke-width="0.7"/>
<rect x="439.35" y="297.1" width="2.3" height="11.7" fill="#e24c33" stroke="#5a170e" stroke-width="0.7"/>
<rect x="442.35" y="308.4" width="2.3" height="4.1" fill="#e24c33" stroke="#5a170e" stroke-width="0.7"/>
<rect x="444.35" y="310.4" width="2.3" height="2.1" fill="#43906a" stroke="#1c3a29" stroke-width="0.7"/>
<rect x="447.35" y="299.1" width="2.3" height="11.8" fill="#43906a" stroke="#1c3a29" stroke-width="0.7"/>
<rect x="450.35" y="286.8" width="2.3" height="12.7" fill="#43906a" stroke="#1c3a29" stroke-width="0.7"/>
<rect x="453.35" y="276.1" width="2.3" height="11.1" fill="#43906a" stroke="#1c3a29" stroke-width="0.7"/>
<rect x="455.35" y="276.1" width="2.3" height="10.3" fill="#e24c33" stroke="#5a170e" stroke-width="0.7"/>
<rect x="458.35" y="277.1" width="2.3" height="9.7" fill="#43906a" stroke="#1c3a29" stroke-width="0.7"/>
<rect x="461.35" y="275" width="2.3" height="2.5" fill="#43906a" stroke="#1c3a29" stroke-width="0.7"/>
<rect x="464.35" y="275.2" width="2.3" height="14.8" fill="#e24c33" stroke="#5a170e" stroke-width="0.7"/>
<rect x="466.35" y="284.2" width="2.3" height="5.8" fill="#43906a" stroke="#1c3a29" stroke-width="0.7"/>
<rect x="469.35" y="284.2" width="2.3" height="4.4" fill="#e24c33" stroke="#5a170e" stroke-width="0.7"/>
<rect x="472.35" y="287.9" width="2.3" height="14.5" fill="#e24c33" stroke="#5a170e" stroke-width="0.7"/>
<rect x="475.35" y="301.9" width="2.3" height="1.5" fill="#e24c33" stroke="#5a170e" stroke-width="0.7"/>
<rect x="477.35" y="293.1" width="2.3" height="10.3" fill="#43906a" stroke="#1c3a29" stroke-width="0.7"/>
<rect x="480.35" y="287.9" width="2.3" height="5.6" fill="#43906a" stroke="#1c3a29" stroke-width="0.7"/>
<rect x="483.35" y="281.4" width="2.3" height="7.2" fill="#43906a" stroke="#1c3a29" stroke-width="0.7"/>
<rect x="486.35" y="281.4" width="2.3" height="8.6" fill="#e24c33" stroke="#5a170e" stroke-width="0.7"/>
<rect x="488.35" y="290" width="2.3" height="23.7" fill="#e24c33" stroke="#5a170e" stroke-width="0.7"/>
<rect x="491.35" y="300.3" width="2.3" height="13.4" fill="#43906a" stroke="#1c3a29" stroke-width="0.7"/>
<rect x="494.35" y="299.9" width="2.3" height="21.6" fill="#e24c33" stroke="#5a170e" stroke-width="0.7"/>
<rect x="497.35" y="311" width="2.3" height="10.5" fill="#43906a" stroke="#1c3a29" stroke-width="0.7"/>
<rect x="499.35" y="299.3" width="2.3" height="12.3" fill="#43906a" stroke="#1c3a29" stroke-width="0.7"/>
<rect x="502.35" y="281.8" width="2.3" height="18.1" fill="#43906a" stroke="#1c3a29" stroke-width="0.7"/>
<rect x="505.35" y="281.8" width="2.3" height="8.8" fill="#e24c33" stroke="#5a170e" stroke-width="0.7"/>
<rect x="508.35" y="288.4" width="2.3" height="2.2" fill="#43906a" stroke="#1c3a29" stroke-width="0.7"/>
<rect x="510.35" y="288.4" width="2.3" height="3.7" fill="#e24c33" stroke="#5a170e" stroke-width="0.7"/>
<rect x="513.35" y="287.9" width="2.3" height="4.6" fill="#43906a" stroke="#1c3a29" stroke-width="0.7"/>
<rect x="516.35" y="288.4" width="2.3" height="2.2" fill="#e24c33" stroke="#5a170e" stroke-width="0.7"/>
<rect x="519.35" y="290" width="2.3" height="3.7" fill="#e24c33" stroke="#5a170e" stroke-width="0.7"/>
<rect x="521.35" y="278.3" width="2.3" height="15.4" fill="#43906a" stroke="#1c3a29" stroke-width="0.7"/>
<rect x="524.35" y="268.8" width="2.3" height="9.9" fill="#43906a" stroke="#1c3a29" stroke-width="0.7"/>
<rect x="527.35" y="260.1" width="2.3" height="9.3" fill="#43906a" stroke="#1c3a29" stroke-width="0.7"/>
<rect x="530.35" y="260.1" width="2.3" height="5.6" fill="#e24c33" stroke="#5a170e" stroke-width="0.7"/>
<rect x="532.35" y="264.3" width="2.3" height="1.4" fill="#43906a" stroke="#1c3a29" stroke-width="0.7"/>
<rect x="535.35" y="258.1" width="2.3" height="6.6" fill="#43906a" stroke="#1c3a29" stroke-width="0.7"/>
<rect x="538.35" y="256.6" width="2.3" height="1.9" fill="#43906a" stroke="#1c3a29" stroke-width="0.7"/>
<rect x="541.35" y="251.3" width="2.3" height="5.8" fill="#43906a" stroke="#1c3a29" stroke-width="0.7"/>
<rect x="543.35" y="251.3" width="2.3" height="6.8" fill="#e24c33" stroke="#5a170e" stroke-width="0.7"/>
<rect x="546.35" y="255.9" width="2.3" height="3.3" fill="#43906a" stroke="#1c3a29" stroke-width="0.7"/>
<rect x="549.35" y="254.4" width="2.3" height="1.5" fill="#e24c33" stroke="#5a170e" stroke-width="0.7"/>
<rect x="552.35" y="248.9" width="2.3" height="6.5" fill="#43906a" stroke="#1c3a29" stroke-width="0.7"/>
<rect x="554.35" y="241.1" width="2.3" height="8.2" fill="#43906a" stroke="#1c3a29" stroke-width="0.7"/>
<rect x="557.35" y="231.2" width="2.3" height="10.9" fill="#43906a" stroke="#1c3a29" stroke-width="0.7"/>
<rect x="560.35" y="231.2" width="2.3" height="4.7" fill="#e24c33" stroke="#5a170e" stroke-width="0.7"/>
<rect x="563.35" y="235.3" width="2.3" height="4.1" fill="#e24c33" stroke="#5a170e" stroke-width="0.7"/>
<rect x="565.35" y="235.9" width="2.3" height="3.5" fill="#43906a" stroke="#1c3a29" stroke-width="0.7"/>
<rect x="568.35" y="230.8" width="2.3" height="5.7" fill="#43906a" stroke="#1c3a29" stroke-width="0.7"/>
<rect x="571.35" y="230.3" width="2.3" height="1.2" fill="#43906a" stroke="#1c3a29" stroke-width="0.7"/>
<rect x="574.35" y="230.8" width="2.3" height="10.3" fill="#e24c33" stroke="#5a170e" stroke-width="0.7"/>
<rect x="576.35" y="231.2" width="2.3" height="9.9" fill="#43906a" stroke="#1c3a29" stroke-width="0.7"/>
<rect x="579.35" y="225" width="2.3" height="6.8" fill="#43906a" stroke="#1c3a29" stroke-width="0.7"/>
<rect x="582.35" y="208.6" width="2.3" height="17" fill="#43906a" stroke="#1c3a29" stroke-width="0.7"/>
<rect x="585.35" y="188.6" width="2.3" height="21" fill="#43906a" stroke="#1c3a29" stroke-width="0.7"/>
<rect x="587.35" y="177.3" width="2.3" height="11.7" fill="#43906a" stroke="#1c3a29" stroke-width="0.7"/>
<rect x="590.35" y="165.4" width="2.3" height="12.3" fill="#43906a" stroke="#1c3a29" stroke-width="0.7"/>
<rect x="593.35" y="140.4" width="2.3" height="25.4" fill="#43906a" stroke="#1c3a29" stroke-width="0.7"/>
<rect x="596.35" y="131.2" width="2.3" height="9.7" fill="#43906a" stroke="#1c3a29" stroke-width="0.7"/>
<rect x="598.35" y="122.8" width="2.3" height="9.3" fill="#43906a" stroke="#1c3a29" stroke-width="0.7"/>
<rect x="601.35" y="123.5" width="2.3" height="8.6" fill="#e24c33" stroke="#5a170e" stroke-width="0.7"/>
<rect x="604.35" y="114.4" width="2.3" height="17.7" fill="#43906a" stroke="#1c3a29" stroke-width="0.7"/>
<rect x="607.35" y="114.4" width="2.3" height="5.1" fill="#e24c33" stroke="#5a170e" stroke-width="0.7"/>
<rect x="609.35" y="91.5" width="2.3" height="28" fill="#43906a" stroke="#1c3a29" stroke-width="0.7"/>
<rect x="612.35" y="79.8" width="2.3" height="12.1" fill="#43906a" stroke="#1c3a29" stroke-width="0.7"/>
<rect x="615.35" y="62.1" width="2.3" height="18.1" fill="#43906a" stroke="#1c3a29" stroke-width="0.7"/>
<rect x="618.35" y="62.1" width="2.3" height="20.5" fill="#e24c33" stroke="#5a170e" stroke-width="0.7"/>
<rect x="620.35" y="82" width="2.3" height="5.5" fill="#e24c33" stroke="#5a170e" stroke-width="0.7"/>
<rect x="623.35" y="87.1" width="2.3" height="74.3" fill="#e24c33" stroke="#5a170e" stroke-width="0.7"/>
<rect x="626.35" y="158.1" width="2.3" height="3.3" fill="#43906a" stroke="#1c3a29" stroke-width="0.7"/>
<rect x="629.35" y="134.3" width="2.3" height="24.2" fill="#43906a" stroke="#1c3a29" stroke-width="0.7"/>
<rect x="631.35" y="134.3" width="2.3" height="13.9" fill="#e24c33" stroke="#5a170e" stroke-width="0.7"/>
<rect x="634.35" y="113.3" width="2.3" height="26" fill="#43906a" stroke="#1c3a29" stroke-width="0.7"/>
<rect x="637.35" y="102.3" width="2.3" height="11.7" fill="#43906a" stroke="#1c3a29" stroke-width="0.7"/>
<rect x="640.35" y="102.3" width="2.3" height="48.1" fill="#e24c33" stroke="#5a170e" stroke-width="0.7"/>
<rect x="642.35" y="138.2" width="2.3" height="12.2" fill="#43906a" stroke="#1c3a29" stroke-width="0.7"/>
<rect x="645.35" y="138.2" width="2.3" height="4.5" fill="#e24c33" stroke="#5a170e" stroke-width="0.7"/>
<rect x="648.35" y="142.2" width="2.3" height="8.2" fill="#e24c33" stroke="#5a170e" stroke-width="0.7"/>
<rect x="651.35" y="149.7" width="2.3" height="1.3" fill="#e24c33" stroke="#5a170e" stroke-width="0.7"/>
<rect x="653.35" y="133.4" width="2.3" height="17" fill="#43906a" stroke="#1c3a29" stroke-width="0.7"/>
<rect x="656.35" y="133.4" width="2.3" height="16.3" fill="#e24c33" stroke="#5a170e" stroke-width="0.7"/>
<rect x="659.35" y="127.7" width="2.3" height="22" fill="#43906a" stroke="#1c3a29" stroke-width="0.7"/>
<rect x="662.35" y="125.4" width="2.3" height="3.4" fill="#43906a" stroke="#1c3a29" stroke-width="0.7"/>
<rect x="664.35" y="123.2" width="2.3" height="2.9" fill="#43906a" stroke="#1c3a29" stroke-width="0.7"/>
<rect x="667.35" y="123.2" width="2.3" height="17.7" fill="#e24c33" stroke="#5a170e" stroke-width="0.7"/>
<rect x="670.35" y="140.4" width="2.3" height="8.9" fill="#e24c33" stroke="#5a170e" stroke-width="0.7"/>
<rect x="673.35" y="147.1" width="2.3" height="2.6" fill="#43906a" stroke="#1c3a29" stroke-width="0.7"/>
<rect x="675.35" y="147.1" width="2.3" height="3.3" fill="#e24c33" stroke="#5a170e" stroke-width="0.7"/>
<rect x="678.35" y="148.7" width="2.3" height="1.9" fill="#43906a" stroke="#1c3a29" stroke-width="0.7"/>
<rect x="681.35" y="138.2" width="2.3" height="11.1" fill="#43906a" stroke="#1c3a29" stroke-width="0.7"/>
<rect x="684.35" y="138.2" width="2.3" height="1.5" fill="#e24c33" stroke="#5a170e" stroke-width="0.7"/>
<rect x="686.35" y="139.2" width="2.3" height="3.2" fill="#e24c33" stroke="#5a170e" stroke-width="0.7"/>
<rect x="689.35" y="132.5" width="2.3" height="9.9" fill="#43906a" stroke="#1c3a29" stroke-width="0.7"/>
<rect x="692.35" y="132.1" width="2.3" height="1.3" fill="#43906a" stroke="#1c3a29" stroke-width="0.7"/>
<rect x="695.35" y="130.2" width="2.3" height="2.7" fill="#43906a" stroke="#1c3a29" stroke-width="0.7"/>
<rect x="697.35" y="130.2" width="2.3" height="10.3" fill="#e24c33" stroke="#5a170e" stroke-width="0.7"/>
<rect x="700.35" y="132.9" width="2.3" height="7.6" fill="#43906a" stroke="#1c3a29" stroke-width="0.7"/>
<rect x="703.35" y="132.9" width="2.3" height="28.6" fill="#e24c33" stroke="#5a170e" stroke-width="0.7"/>
<rect x="706.35" y="161.2" width="2.3" height="8.5" fill="#e24c33" stroke="#5a170e" stroke-width="0.7"/>
<rect x="708.35" y="169.2" width="2.3" height="25.4" fill="#e24c33" stroke="#5a170e" stroke-width="0.7"/>
<rect x="711.35" y="191.3" width="2.3" height="3.3" fill="#43906a" stroke="#1c3a29" stroke-width="0.7"/>
<rect x="714.35" y="191.3" width="2.3" height="4.2" fill="#e24c33" stroke="#5a170e" stroke-width="0.7"/>
<rect x="717.35" y="182.2" width="2.3" height="13.3" fill="#43906a" stroke="#1c3a29" stroke-width="0.7"/>
<rect x="719.35" y="170.3" width="2.3" height="12.3" fill="#43906a" stroke="#1c3a29" stroke-width="0.7"/>
<rect x="722.35" y="170.3" width="2.3" height="9.6" fill="#e24c33" stroke="#5a170e" stroke-width="0.7"/>
<rect x="725.35" y="165.4" width="2.3" height="14.5" fill="#43906a" stroke="#1c3a29" stroke-width="0.7"/>
<rect x="728.35" y="165.4" width="2.3" height="4.3" fill="#e24c33" stroke="#5a170e" stroke-width="0.7"/>
<rect x="730.35" y="160.2" width="2.3" height="9.5" fill="#43906a" stroke="#1c3a29" stroke-width="0.7"/>
<rect x="733.35" y="160.2" width="2.3" height="24.3" fill="#e24c33" stroke="#5a170e" stroke-width="0.7"/>
<rect x="736.35" y="178" width="2.3" height="7" fill="#43906a" stroke="#1c3a29" stroke-width="0.7"/>
<rect x="739.35" y="173" width="2.3" height="5.7" fill="#43906a" stroke="#1c3a29" stroke-width="0.7"/>
<rect x="741.35" y="149.7" width="2.3" height="23.9" fill="#43906a" stroke="#1c3a29" stroke-width="0.7"/>
<rect x="744.35" y="149.3" width="2.3" height="5.2" fill="#e24c33" stroke="#5a170e" stroke-width="0.7"/>
<rect x="747.35" y="154.1" width="2.3" height="22" fill="#e24c33" stroke="#5a170e" stroke-width="0.7"/>
<rect x="750.35" y="168.4" width="2.3" height="7.7" fill="#43906a" stroke="#1c3a29" stroke-width="0.7"/>
<rect x="752.35" y="163.1" width="2.3" height="5.7" fill="#43906a" stroke="#1c3a29" stroke-width="0.7"/>
<rect x="755.35" y="163.1" width="2.3" height="7.2" fill="#e24c33" stroke="#5a170e" stroke-width="0.7"/>
<rect x="758.35" y="165.9" width="2.3" height="4.8" fill="#43906a" stroke="#1c3a29" stroke-width="0.7"/>
<rect x="761.35" y="166.2" width="2.3" height="3.8" fill="#43906a" stroke="#1c3a29" stroke-width="0.7"/>
<rect x="763.35" y="153.8" width="2.3" height="13.7" fill="#43906a" stroke="#1c3a29" stroke-width="0.7"/>
<rect x="766.35" y="153.8" width="2.3" height="12.4" fill="#e24c33" stroke="#5a170e" stroke-width="0.7"/>
<rect x="769.35" y="165.5" width="2.3" height="2" fill="#e24c33" stroke="#5a170e" stroke-width="0.7"/>
<rect x="771.35" y="166.2" width="2.3" height="2.6" fill="#e24c33" stroke="#5a170e" stroke-width="0.7"/>
<rect x="774.35" y="163.8" width="2.3" height="5" fill="#43906a" stroke="#1c3a29" stroke-width="0.7"/>
<rect x="777.35" y="163.8" width="2.3" height="20.4" fill="#e24c33" stroke="#5a170e" stroke-width="0.7"/>
<rect x="780.35" y="183.8" width="2.3" height="7.4" fill="#e24c33" stroke="#5a170e" stroke-width="0.7"/>
<rect x="782.35" y="183" width="2.3" height="8.2" fill="#43906a" stroke="#1c3a29" stroke-width="0.7"/>
<rect x="785.35" y="172.5" width="2.3" height="11.3" fill="#43906a" stroke="#1c3a29" stroke-width="0.7"/>
<rect x="788.35" y="163" width="2.3" height="10" fill="#43906a" stroke="#1c3a29" stroke-width="0.7"/>
<rect x="791.35" y="163" width="2.3" height="4.5" fill="#e24c33" stroke="#5a170e" stroke-width="0.7"/>
<rect x="793.35" y="135" width="2.3" height="33" fill="#43906a" stroke="#1c3a29" stroke-width="0.7"/>
<rect x="796.35" y="135" width="2.3" height="4.5" fill="#e24c33" stroke="#5a170e" stroke-width="0.7"/>
<rect x="799.35" y="138.8" width="2.3" height="55.4" fill="#e24c33" stroke="#5a170e" stroke-width="0.7"/>
<rect x="802.35" y="183.8" width="2.3" height="10.4" fill="#43906a" stroke="#1c3a29" stroke-width="0.7"/>
<rect x="804.35" y="183.8" width="2.3" height="8.7" fill="#e24c33" stroke="#5a170e" stroke-width="0.7"/>
<rect x="807.35" y="185" width="2.3" height="7.5" fill="#43906a" stroke="#1c3a29" stroke-width="0.7"/>
<rect x="810.35" y="176.2" width="2.3" height="9.3" fill="#43906a" stroke="#1c3a29" stroke-width="0.7"/>
<rect x="813.35" y="175.5" width="2.3" height="1.5" fill="#43906a" stroke="#1c3a29" stroke-width="0.7"/>
<rect x="815.35" y="175.5" width="2.3" height="7" fill="#e24c33" stroke="#5a170e" stroke-width="0.7"/>
<rect x="818.35" y="182" width="2.3" height="6.8" fill="#e24c33" stroke="#5a170e" stroke-width="0.7"/>
<rect x="821.35" y="188" width="2.3" height="4.5" fill="#e24c33" stroke="#5a170e" stroke-width="0.7"/>
<rect x="824.35" y="183.8" width="2.3" height="8.7" fill="#43906a" stroke="#1c3a29" stroke-width="0.7"/>
<rect x="826.35" y="183.8" width="2.3" height="28.7" fill="#e24c33" stroke="#5a170e" stroke-width="0.7"/>
<rect x="829.35" y="212" width="2.3" height="20.5" fill="#e24c33" stroke="#5a170e" stroke-width="0.7"/>
<rect x="832.35" y="231.2" width="2.3" height="1.8" fill="#e24c33" stroke="#5a170e" stroke-width="0.7"/>
<rect x="835.35" y="230" width="2.3" height="2.5" fill="#43906a" stroke="#1c3a29" stroke-width="0.7"/>
<rect x="837.35" y="230" width="2.3" height="24.5" fill="#e24c33" stroke="#5a170e" stroke-width="0.7"/>
<rect x="840.35" y="247" width="2.3" height="7.5" fill="#e24c33" stroke="#5a170e" stroke-width="0.7"/>
<rect x="843.35" y="227" width="2.3" height="27.5" fill="#43906a" stroke="#1c3a29" stroke-width="0.7"/>
<rect x="846.35" y="215.7" width="2.3" height="11.8" fill="#43906a" stroke="#1c3a29" stroke-width="0.7"/>
<rect x="848.35" y="208.9" width="2.3" height="7.5" fill="#43906a" stroke="#1c3a29" stroke-width="0.7"/>
<rect x="851.35" y="208.9" width="2.3" height="4.8" fill="#e24c33" stroke="#5a170e" stroke-width="0.7"/>
<rect x="854.35" y="194.1" width="2.3" height="19.6" fill="#43906a" stroke="#1c3a29" stroke-width="0.7"/>
<rect x="857.35" y="189.6" width="2.3" height="4.9" fill="#43906a" stroke="#1c3a29" stroke-width="0.7"/>
<rect x="859.35" y="189.6" width="2.3" height="21" fill="#e24c33" stroke="#5a170e" stroke-width="0.7"/>
<rect x="862.35" y="210" width="2.3" height="2.2" fill="#e24c33" stroke="#5a170e" stroke-width="0.7"/>
<rect x="865.35" y="210" width="2.3" height="2.2" fill="#43906a" stroke="#1c3a29" stroke-width="0.7"/>
<rect x="868.35" y="210" width="2.3" height="9.9" fill="#e24c33" stroke="#5a170e" stroke-width="0.7"/>
<rect x="870.35" y="201.3" width="2.3" height="18.6" fill="#43906a" stroke="#1c3a29" stroke-width="0.7"/>
<rect x="873.35" y="192.5" width="2.3" height="9.4" fill="#43906a" stroke="#1c3a29" stroke-width="0.7"/>
<rect x="876.35" y="179.3" width="2.3" height="13.8" fill="#43906a" stroke="#1c3a29" stroke-width="0.7"/>
<rect x="879.35" y="179.3" width="2.3" height="3.5" fill="#e24c33" stroke="#5a170e" stroke-width="0.7"/>
<rect x="881.35" y="182.4" width="2.3" height="3.9" fill="#e24c33" stroke="#5a170e" stroke-width="0.7"/>
<rect x="884.35" y="185.5" width="2.3" height="11.1" fill="#e24c33" stroke="#5a170e" stroke-width="0.7"/>
<rect x="887.35" y="186.9" width="2.3" height="9.7" fill="#43906a" stroke="#1c3a29" stroke-width="0.7"/>
<rect x="890.35" y="183.4" width="2.3" height="4.1" fill="#43906a" stroke="#1c3a29" stroke-width="0.7"/>
<rect x="892.35" y="183.4" width="2.3" height="3.5" fill="#e24c33" stroke="#5a170e" stroke-width="0.7"/>
<rect x="895.35" y="184.2" width="2.3" height="3.3" fill="#43906a" stroke="#1c3a29" stroke-width="0.7"/>
<rect x="898.35" y="173.5" width="2.3" height="11.4" fill="#43906a" stroke="#1c3a29" stroke-width="0.7"/>
<rect x="901.35" y="170" width="2.3" height="3.9" fill="#43906a" stroke="#1c3a29" stroke-width="0.7"/>
<rect x="903.35" y="140.6" width="2.3" height="29.8" fill="#43906a" stroke="#1c3a29" stroke-width="0.7"/>
<rect x="906.35" y="136.5" width="2.3" height="4.7" fill="#43906a" stroke="#1c3a29" stroke-width="0.7"/>
<rect x="909.35" y="136.1" width="2.3" height="22" fill="#e24c33" stroke="#5a170e" stroke-width="0.7"/>
<rect x="912.35" y="157.5" width="2.3" height="2" fill="#e24c33" stroke="#5a170e" stroke-width="0.7"/>
<rect x="914.35" y="159.1" width="2.3" height="44.3" fill="#e24c33" stroke="#5a170e" stroke-width="0.7"/>
<rect x="917.35" y="203.4" width="2.3" height="4.1" fill="#e24c33" stroke="#5a170e" stroke-width="0.7"/>
<rect x="920.35" y="199.9" width="2.3" height="7.6" fill="#43906a" stroke="#1c3a29" stroke-width="0.7"/>
<rect x="923.35" y="200.3" width="2.3" height="6.2" fill="#e24c33" stroke="#5a170e" stroke-width="0.7"/>
<rect x="925.35" y="205.4" width="2.3" height="1.5" fill="#e24c33" stroke="#5a170e" stroke-width="0.7"/>
<rect x="928.35" y="205.7" width="2.3" height="13" fill="#e24c33" stroke="#5a170e" stroke-width="0.7"/>
<rect x="931.35" y="211.5" width="2.3" height="7.2" fill="#43906a" stroke="#1c3a29" stroke-width="0.7"/>
<rect x="934.35" y="209.4" width="2.3" height="2.5" fill="#43906a" stroke="#1c3a29" stroke-width="0.7"/>
<rect x="936.35" y="188.5" width="2.3" height="22.4" fill="#43906a" stroke="#1c3a29" stroke-width="0.7"/>
<rect x="939.35" y="188.15" width="2.3" height="1.2" fill="#e24c33" stroke="#5a170e" stroke-width="0.7"/>
<rect x="942.35" y="189.1" width="2.3" height="10.4" fill="#e24c33" stroke="#5a170e" stroke-width="0.7"/>
<rect x="945.35" y="198.5" width="2.3" height="1.2" fill="#43906a" stroke="#1c3a29" stroke-width="0.7"/>
<rect x="947.35" y="199.3" width="2.3" height="3.3" fill="#e24c33" stroke="#5a170e" stroke-width="0.7"/>
<rect x="950.35" y="202.4" width="2.3" height="5.2" fill="#e24c33" stroke="#5a170e" stroke-width="0.7"/>
<rect x="953.35" y="207.15" width="2.3" height="1.2" fill="#e24c33" stroke="#5a170e" stroke-width="0.7"/>
<rect x="956.35" y="185.5" width="2.3" height="22.8" fill="#43906a" stroke="#1c3a29" stroke-width="0.7"/>
<rect x="958.35" y="195.4" width="2.3" height="9.4" fill="#43906a" stroke="#1c3a29" stroke-width="0.7"/>
<rect x="961.35" y="195.4" width="2.3" height="16" fill="#e24c33" stroke="#5a170e" stroke-width="0.7"/>
<rect x="964.35" y="211.2" width="2.3" height="3.2" fill="#e24c33" stroke="#5a170e" stroke-width="0.7"/>
<rect x="967.35" y="214.2" width="2.3" height="28.3" fill="#e24c33" stroke="#5a170e" stroke-width="0.7"/>
<rect x="969.35" y="228.5" width="2.3" height="14" fill="#43906a" stroke="#1c3a29" stroke-width="0.7"/>
<rect x="972.35" y="216.4" width="2.3" height="12.4" fill="#43906a" stroke="#1c3a29" stroke-width="0.7"/>
<rect x="975.35" y="211.2" width="2.3" height="5.5" fill="#43906a" stroke="#1c3a29" stroke-width="0.7"/>
<rect x="978.35" y="208.1" width="2.3" height="3.3" fill="#43906a" stroke="#1c3a29" stroke-width="0.7"/>
<rect x="980.35" y="208.1" width="2.3" height="12.4" fill="#e24c33" stroke="#5a170e" stroke-width="0.7"/>
<rect x="983.35" y="220.1" width="2.3" height="1.7" fill="#e24c33" stroke="#5a170e" stroke-width="0.7"/>
<rect x="986.35" y="220.7" width="2.3" height="5.2" fill="#e24c33" stroke="#5a170e" stroke-width="0.7"/>
<rect x="989.35" y="225.5" width="2.3" height="17.3" fill="#e24c33" stroke="#5a170e" stroke-width="0.7"/>
<rect x="991.35" y="242.4" width="2.3" height="14" fill="#e24c33" stroke="#5a170e" stroke-width="0.7"/>
<rect x="994.35" y="254.7" width="2.3" height="1.7" fill="#43906a" stroke="#1c3a29" stroke-width="0.7"/>
<rect x="997.35" y="248.9" width="2.3" height="7.2" fill="#43906a" stroke="#1c3a29" stroke-width="0.7"/>
<rect x="1000.35" y="230.9" width="2.3" height="18.2" fill="#43906a" stroke="#1c3a29" stroke-width="0.7"/>
<rect x="1002.35" y="230.9" width="2.3" height="3.2" fill="#e24c33" stroke="#5a170e" stroke-width="0.7"/>
<rect x="1005.35" y="233.55" width="2.3" height="1.2" fill="#e24c33" stroke="#5a170e" stroke-width="0.7"/>
<rect x="1008.35" y="234.1" width="2.3" height="25.1" fill="#e24c33" stroke="#5a170e" stroke-width="0.7"/>
<rect x="1011.35" y="259.2" width="2.3" height="26.4" fill="#e24c33" stroke="#5a170e" stroke-width="0.7"/>
<rect x="1013.35" y="285.6" width="2.3" height="6.7" fill="#e24c33" stroke="#5a170e" stroke-width="0.7"/>
<rect x="1016.35" y="282.1" width="2.3" height="10.2" fill="#43906a" stroke="#1c3a29" stroke-width="0.7"/>
<rect x="1019.35" y="282.1" width="2.3" height="20.5" fill="#e24c33" stroke="#5a170e" stroke-width="0.7"/>
<rect x="1022.35" y="302.1" width="2.3" height="10" fill="#e24c33" stroke="#5a170e" stroke-width="0.7"/>
<rect x="1024.35" y="307.7" width="2.3" height="4.4" fill="#43906a" stroke="#1c3a29" stroke-width="0.7"/>
<rect x="1027.35" y="307.7" width="2.3" height="15.5" fill="#e24c33" stroke="#5a170e" stroke-width="0.7"/>
<rect x="1030.35" y="298.5" width="2.3" height="24.7" fill="#43906a" stroke="#1c3a29" stroke-width="0.7"/>
<rect x="1033.35" y="290.2" width="2.3" height="8.3" fill="#43906a" stroke="#1c3a29" stroke-width="0.7"/>
<rect x="1035.35" y="290.2" width="2.3" height="3.9" fill="#e24c33" stroke="#5a170e" stroke-width="0.7"/>
<rect x="1038.35" y="294.1" width="2.3" height="7.4" fill="#e24c33" stroke="#5a170e" stroke-width="0.7"/>
</g>
<line x1="0" y1="256.5" x2="1216.5" y2="256.5" stroke="#f2493a" stroke-width="1.2"/>
<line x1="0" y1="327.4" x2="1216.5" y2="327.4" stroke="#3f7f2a" stroke-width="1.15"/>
<line x1="0" y1="357.5" x2="1216.5" y2="357.5" stroke="#3f9142" stroke-width="1.15"/>
<line x1="618.7" y1="56.9" x2="1124.2" y2="250.3" stroke="#1f2af5" stroke-width="1.08" stroke-linecap="round"/>
<line x1="530.6" y1="128.1" x2="1077.6" y2="354.7" stroke="#1f2af5" stroke-width="1.08" stroke-linecap="round"/>
<g id="frame" stroke="#4d4d4d" stroke-width="1">
<line x1="0" y1="0.5" x2="1280" y2="0.5" stroke="#333333" stroke-width="1"/>
<line x1="1216.5" y1="0" x2="1216.5" y2="680"/>
<line x1="0" y1="562.5" x2="1280" y2="562.5"/>
<line x1="0" y1="653.5" x2="1280" y2="653.5"/>
</g>
<g id="paxis" font-size="12" fill="#555555">
<line x1="1216.5" y1="12.6" x2="1221.5" y2="12.6" stroke="#4d4d4d" stroke-width="1"/>
<text x="1226" y="16.9" textLength="42.1" lengthAdjust="spacingAndGlyphs">2150.00</text>
<line x1="1216.5" y1="73.5" x2="1221.5" y2="73.5" stroke="#4d4d4d" stroke-width="1"/>
<text x="1226" y="77.8" textLength="42.1" lengthAdjust="spacingAndGlyphs">2050.00</text>
<line x1="1216.5" y1="123.5" x2="1221.5" y2="123.5" stroke="#4d4d4d" stroke-width="1"/>
<text x="1226" y="127.8" textLength="42.1" lengthAdjust="spacingAndGlyphs">1970.00</text>
<line x1="1216.5" y1="177" x2="1221.5" y2="177" stroke="#4d4d4d" stroke-width="1"/>
<text x="1226" y="181.3" textLength="42.1" lengthAdjust="spacingAndGlyphs">1890.00</text>
<line x1="1216.5" y1="231.2" x2="1221.5" y2="231.2" stroke="#4d4d4d" stroke-width="1"/>
<text x="1226" y="235.5" textLength="42.1" lengthAdjust="spacingAndGlyphs">1810.00</text>
<line x1="1216.5" y1="266.7" x2="1221.5" y2="266.7" stroke="#4d4d4d" stroke-width="1"/>
<text x="1226" y="271.0" textLength="42.1" lengthAdjust="spacingAndGlyphs">1760.00</text>
<line x1="1216.5" y1="311" x2="1221.5" y2="311" stroke="#4d4d4d" stroke-width="1"/>
<text x="1226" y="315.3" textLength="42.1" lengthAdjust="spacingAndGlyphs">1700.00</text>
<line x1="1216.5" y1="341.3" x2="1221.5" y2="341.3" stroke="#4d4d4d" stroke-width="1"/>
<text x="1226" y="345.6" textLength="42.1" lengthAdjust="spacingAndGlyphs">1660.00</text>
<line x1="1216.5" y1="372.5" x2="1221.5" y2="372.5" stroke="#4d4d4d" stroke-width="1"/>
<text x="1226" y="376.8" textLength="42.1" lengthAdjust="spacingAndGlyphs">1620.00</text>
<line x1="1216.5" y1="403.9" x2="1221.5" y2="403.9" stroke="#4d4d4d" stroke-width="1"/>
<text x="1226" y="408.2" textLength="42.1" lengthAdjust="spacingAndGlyphs">1580.00</text>
<line x1="1216.5" y1="436.9" x2="1221.5" y2="436.9" stroke="#4d4d4d" stroke-width="1"/>
<text x="1226" y="441.2" textLength="42.1" lengthAdjust="spacingAndGlyphs">1540.00</text>
<line x1="1216.5" y1="469.9" x2="1221.5" y2="469.9" stroke="#4d4d4d" stroke-width="1"/>
<text x="1226" y="474.2" textLength="42.1" lengthAdjust="spacingAndGlyphs">1500.00</text>
<line x1="1216.5" y1="504.4" x2="1221.5" y2="504.4" stroke="#4d4d4d" stroke-width="1"/>
<text x="1226" y="508.7" textLength="42.1" lengthAdjust="spacingAndGlyphs">1460.00</text>
<line x1="1216.5" y1="535.9" x2="1221.5" y2="535.9" stroke="#4d4d4d" stroke-width="1"/>
<text x="1226" y="540.1999999999999" textLength="42.1" lengthAdjust="spacingAndGlyphs">1424.00</text>
<line x1="1216.5" y1="573" x2="1221.5" y2="573" stroke="#4d4d4d" stroke-width="1"/>
<text x="1226" y="577.3" textLength="35" lengthAdjust="spacingAndGlyphs">100.00</text>
<line x1="1216.5" y1="609" x2="1221.5" y2="609" stroke="#4d4d4d" stroke-width="1"/>
<text x="1226" y="613.3" textLength="28.6" lengthAdjust="spacingAndGlyphs">50.00</text>
<line x1="1216.5" y1="645.5" x2="1221.5" y2="645.5" stroke="#4d4d4d" stroke-width="1"/>
<text x="1226" y="649.8" textLength="23.2" lengthAdjust="spacingAndGlyphs">0.00</text>
</g>
<g id="tags" font-size="12" font-weight="bold" fill="#ffffff">
<path d="M1217 248.40000000000003H1273a2 2 0 0 1 2 2V262.8a2 2 0 0 1 -2 2H1217Z" fill="#f23d36"/>
<line x1="1217" y1="256.6" x2="1221" y2="256.6" stroke="#ffffff" stroke-width="1"/>
<text x="1226" y="260.90000000000003" textLength="43" lengthAdjust="spacingAndGlyphs">1774.43</text>
<path d="M1217 293.40000000000003H1273a2 2 0 0 1 2 2V307.8a2 2 0 0 1 -2 2H1217Z" fill="#d8523f"/>
<line x1="1217" y1="301.6" x2="1221" y2="301.6" stroke="#ffffff" stroke-width="1"/>
<text x="1226" y="305.90000000000003" textLength="43" lengthAdjust="spacingAndGlyphs">1711.98</text>
<path d="M1217 319.3H1273a2 2 0 0 1 2 2V333.7a2 2 0 0 1 -2 2H1217Z" fill="#33691e"/>
<line x1="1217" y1="327.5" x2="1221" y2="327.5" stroke="#ffffff" stroke-width="1"/>
<text x="1226" y="331.8" textLength="43" lengthAdjust="spacingAndGlyphs">1677.67</text>
<path d="M1217 349.2H1273a2 2 0 0 1 2 2V363.59999999999997a2 2 0 0 1 -2 2H1217Z" fill="#388e3c"/>
<line x1="1217" y1="357.4" x2="1221" y2="357.4" stroke="#ffffff" stroke-width="1"/>
<text x="1226" y="361.7" textLength="43" lengthAdjust="spacingAndGlyphs">1638.60</text>
</g>
<rect x="1233.5" y="7.5" width="29" height="17.5" rx="3" ry="3" fill="#ffffff" stroke="#d5d8e2" stroke-width="1"/>
<text x="1238.3" y="20.2" font-size="12" fill="#555555" textLength="19.4" lengthAdjust="spacingAndGlyphs">USD</text>
<g id="taxis" font-size="12" fill="#555555" text-anchor="middle">
<line x1="11.5" y1="653.5" x2="11.5" y2="657.5" stroke="#4d4d4d" stroke-width="1"/>
<text x="2.5" y="670.5" text-anchor="start" textLength="18" lengthAdjust="spacingAndGlyphs">Oct</text>
<line x1="104.6" y1="653.5" x2="104.6" y2="657.5" stroke="#4d4d4d" stroke-width="1"/>
<text x="98.44999999999999" y="670.5" text-anchor="start" textLength="12.3" lengthAdjust="spacingAndGlyphs">18</text>
<line x1="190.5" y1="653.5" x2="190.5" y2="657.5" stroke="#4d4d4d" stroke-width="1"/>
<text x="177.1" y="670.5" font-weight="bold" text-anchor="start" textLength="26.8" lengthAdjust="spacingAndGlyphs">2020</text>
<line x1="308.4" y1="653.5" x2="308.4" y2="657.5" stroke="#4d4d4d" stroke-width="1"/>
<text x="298.59999999999997" y="670.5" text-anchor="start" textLength="19.6" lengthAdjust="spacingAndGlyphs">Mar</text>
<line x1="426.5" y1="653.5" x2="426.5" y2="657.5" stroke="#4d4d4d" stroke-width="1"/>
<text x="416.4" y="670.5" text-anchor="start" textLength="20.2" lengthAdjust="spacingAndGlyphs">May</text>
<line x1="544.2" y1="653.5" x2="544.2" y2="657.5" stroke="#4d4d4d" stroke-width="1"/>
<text x="536.7" y="670.5" text-anchor="start" textLength="15" lengthAdjust="spacingAndGlyphs">Jul</text>
<line x1="665.1" y1="653.5" x2="665.1" y2="657.5" stroke="#4d4d4d" stroke-width="1"/>
<text x="655.7" y="670.5" text-anchor="start" textLength="18.8" lengthAdjust="spacingAndGlyphs">Sep</text>
<line x1="786" y1="653.5" x2="786" y2="657.5" stroke="#4d4d4d" stroke-width="1"/>
<text x="776.0" y="670.5" text-anchor="start" textLength="20" lengthAdjust="spacingAndGlyphs">Nov</text>
<line x1="904.8" y1="653.5" x2="904.8" y2="657.5" stroke="#4d4d4d" stroke-width="1"/>
<text x="891.55" y="670.5" font-weight="bold" text-anchor="start" textLength="26.5" lengthAdjust="spacingAndGlyphs">2021</text>
<line x1="1014.3" y1="653.5" x2="1014.3" y2="657.5" stroke="#4d4d4d" stroke-width="1"/>
<text x="1004.5" y="670.5" text-anchor="start" textLength="19.6" lengthAdjust="spacingAndGlyphs">Mar</text>
<line x1="1177.5" y1="653.5" x2="1177.5" y2="657.5" stroke="#4d4d4d" stroke-width="1"/>
<text x="1167.4" y="670.5" text-anchor="start" textLength="20.2" lengthAdjust="spacingAndGlyphs">May</text>
</g>
<circle cx="1248.4" cy="667.5" r="5" fill="none" stroke="#1e2230" stroke-width="1.15"/><line x1="1253.8" y1="667.5" x2="1256" y2="667.5" stroke="#1e2230" stroke-width="1.15"/><line x1="1252.22" y1="671.32" x2="1253.77" y2="672.87" stroke="#1e2230" stroke-width="1.15"/><line x1="1248.4" y1="672.9" x2="1248.4" y2="675.1" stroke="#1e2230" stroke-width="1.15"/><line x1="1244.58" y1="671.32" x2="1243.03" y2="672.87" stroke="#1e2230" stroke-width="1.15"/><line x1="1243" y1="667.5" x2="1240.8" y2="667.5" stroke="#1e2230" stroke-width="1.15"/><line x1="1244.58" y1="663.68" x2="1243.03" y2="662.13" stroke="#1e2230" stroke-width="1.15"/><line x1="1248.4" y1="662.1" x2="1248.4" y2="659.9" stroke="#1e2230" stroke-width="1.15"/><line x1="1252.22" y1="663.68" x2="1253.77" y2="662.13" stroke="#1e2230" stroke-width="1.15"/>
<g font-size="15.5" fill="#4d4d4d">
<text x="9.3" y="23" textLength="29" lengthAdjust="spacingAndGlyphs">Gold</text>
<text x="47.5" y="23" textLength="30" lengthAdjust="spacingAndGlyphs">Spot</text>
<text x="84.5" y="23" textLength="5.5" lengthAdjust="spacingAndGlyphs">/</text>
<text x="97" y="23" textLength="27.2" lengthAdjust="spacingAndGlyphs">U.S.</text>
<text x="131.8" y="23" textLength="40.7" lengthAdjust="spacingAndGlyphs">Dollar</text>
<text x="187" y="23" textLength="16.2" lengthAdjust="spacingAndGlyphs">1D</text>
<circle cx="179.3" cy="18.2" r="1.1" fill="#8a94a8"/>
</g>
<g font-size="12.6" fill="#505050">
<text x="9.3" y="46.3" textLength="15.7" lengthAdjust="spacingAndGlyphs">MA</text>
<text x="30.5" y="46.3" textLength="12.5" lengthAdjust="spacingAndGlyphs">50</text>
<text x="48" y="46.3" textLength="28.8" lengthAdjust="spacingAndGlyphs">close</text>
</g>
<text x="85.5" y="46.3" font-size="12.6" fill="#9c27b0" textLength="44.8" lengthAdjust="spacingAndGlyphs">1813.13</text>
<text x="9.3" y="70" font-size="12.6" fill="#505050" textLength="17" lengthAdjust="spacingAndGlyphs">Vol</text>
<circle cx="50.8" cy="65" r="8.8" fill="#fde3e3"/>
<text x="50.8" y="69.6" font-size="13" font-weight="bold" fill="#e53935" text-anchor="middle">!</text>
<rect x="9.5" y="79.7" width="28" height="19.8" rx="3" ry="3" fill="#ffffff" stroke="#cfd2dc" stroke-width="1"/>
<path d="M19 91.7L23.4 87.5L27.8 91.7" fill="none" stroke="#2a2a2a" stroke-width="1.5"/>
<rect x="3.5" y="570" width="232" height="20.8" fill="#ffffff" fill-opacity="0.55"/>
<g font-size="12.6" fill="#505050">
<text x="9.4" y="583.8" textLength="30.8" lengthAdjust="spacingAndGlyphs">Stoch</text>
<text x="45.25" y="583.8" textLength="16.2" lengthAdjust="spacingAndGlyphs">RSI</text>
<text x="66.9" y="583.8" textLength="5.4" lengthAdjust="spacingAndGlyphs">3</text>
<text x="77.75" y="583.8" textLength="5" lengthAdjust="spacingAndGlyphs">3</text>
<text x="89" y="583.8" textLength="11.6" lengthAdjust="spacingAndGlyphs">14</text>
<text x="106.25" y="583.8" textLength="11.8" lengthAdjust="spacingAndGlyphs">14</text>
<text x="123.1" y="583.8" textLength="28.8" lengthAdjust="spacingAndGlyphs">close</text>
</g>
<text x="160.5" y="583.8" font-size="12.6" fill="#2196f3" textLength="31.7" lengthAdjust="spacingAndGlyphs">66.69</text>
<text x="199.2" y="583.8" font-size="12.6" fill="#ff6d00" textLength="30.8" lengthAdjust="spacingAndGlyphs">58.33</text>
<circle cx="23.5" cy="630.4" r="16.3" fill="#ffffff" stroke="#e9e9ee" stroke-width="1.1"/>
<path d="M15.5 635.5C13.5 635.5 13 633 13.1 631.5C13.1 629 14.5 627.6 16.6 627.6C17 624.6 19 622.9 21.5 622.9C23.6 622.9 25.2 624 26 625.6C27 625 28.5 625 29.8 625.8C31 626.6 31.5 627.6 31.6 628.4C33.5 628.9 34.3 630.4 34.3 632C34.3 634 33 635.5 31.5 635.5Z" fill="#3d9fe9"/>
<path d="M13.4 633.5L20.8 627.5L25.9 632.9L31.6 627.6" fill="none" stroke="#ffffff" stroke-width="1.3" stroke-linejoin="round"/>
<circle cx="20.8" cy="627.5" r="1.45" fill="#fff"/><circle cx="25.9" cy="632.8" r="1.45" fill="#fff"/>
</svg></body></html>
